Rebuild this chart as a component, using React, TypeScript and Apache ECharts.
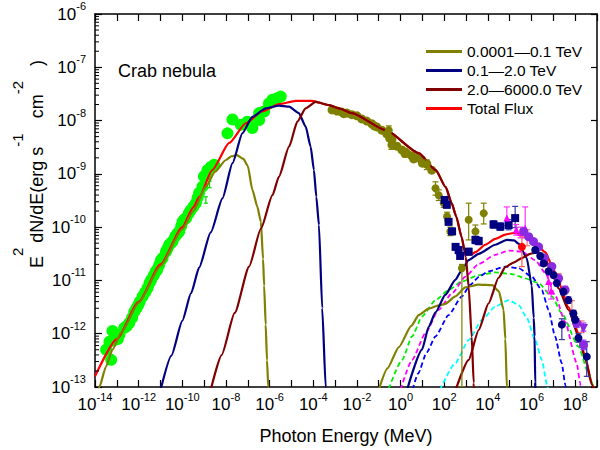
import React, { useEffect, useRef } from 'react';
import * as echarts from 'echarts';

const FONT = "'Liberation Sans', Arial, Helvetica, sans-serif";

// All values are log10(E / MeV), log10(E^2 dN/dE / erg s^-1 cm^-2)
const xRange = [-14, 9];
const yRange = [-13, -6];
const minorMantissas = [2, 3, 4, 5, 6, 7, 8, 9];

const legendNames = ['0.0001\u20140.1 TeV', '0.1\u20142.0 TeV', '2.0\u20146000.0 TeV', 'Total Flux'];

// ---- model curves ----
const totalFlux = [
  [-14, -12.8], [-13, -12.1], [-12, -11.4], [-11, -10.7], [-10, -10.0], [-9.5, -9.63], [-9.22, -9.43],
  [-8.63, -8.93], [-7.85, -8.42], [-7.09, -8.05], [-6.35, -7.83], [-5.57, -7.69], [-4.8, -7.63],
  [-4.06, -7.63], [-3.27, -7.71], [-2.82, -7.77], [-2.23, -7.86], [-0.68, -8.18], [0.83, -8.61],
  [1.61, -8.93], [2.07, -9.25], [2.34, -9.55], [2.55, -9.8], [2.8, -10.19], [2.92, -10.42],
  [3.07, -10.52], [3.25, -10.51], [3.43, -10.47], [3.88, -10.33], [4.34, -10.22], [4.8, -10.14],
  [5.18, -10.11], [5.55, -10.13], [5.87, -10.18], [6.18, -10.3], [6.63, -10.47], [6.93, -10.71],
  [7.24, -11.03], [7.69, -11.5], [8.15, -11.98], [8.45, -12.42], [8.76, -12.92], [9.0, -13.3],
];
const oliveSync = [
  [-13.9, -13.15], [-13.8, -13.0], [-13.5, -12.62], [-13.2, -12.3], [-12.8, -11.98], [-12, -11.42],
  [-11, -10.73], [-10, -10.04], [-9.5, -9.7], [-8.92, -9.24], [-8.5, -8.96], [-8, -8.74], [-7.75, -8.67],
  [-7.5, -8.65], [-7.2, -8.72], [-7.0, -8.85], [-6.79, -9.3], [-6.56, -9.62], [-6.4, -9.9],
  [-6.3, -10.6], [-6.25, -11.1], [-6.18, -11.83], [-6.12, -12.5], [-6.06, -13.0], [-6.04, -13.3],
];
const oliveIC = [
  [-1.0, -13.05], [-0.6, -12.65], [-0.08, -12.25], [0.5, -11.85], [0.83, -11.65], [1.29, -11.53],
  [1.75, -11.47], [2.05, -11.44], [2.51, -11.3], [2.97, -11.13], [3.58, -11.08], [4.2, -11.09],
  [4.5, -11.2], [4.72, -11.55], [4.8, -12.1], [4.87, -13.0], [4.9, -13.3],
];
const navySync = [
  [-11.0, -13.06], [-10.5, -12.41], [-10, -11.76], [-9.6, -11.24], [-9.23, -10.76], [-8.7, -10.1],
  [-8.16, -9.46], [-7.7, -8.8], [-7.25, -8.24], [-6.79, -7.93], [-6.18, -7.77], [-5.57, -7.72],
  [-5.11, -7.74], [-4.66, -7.86], [-4.35, -8.11], [-4.12, -8.49], [-3.97, -8.93], [-3.86, -9.43],
  [-3.74, -9.96], [-3.59, -11.52], [-3.43, -13.0], [-3.4, -13.3],
];
const navyIC = [
  [0.3, -13.05], [0.98, -12.3], [1.29, -11.87], [1.6, -11.6], [2.05, -11.27],
  [2.51, -10.99], [2.81, -10.8], [3.12, -10.62], [3.58, -10.5], [4.34, -10.33], [4.87, -10.24],
  [5.2, -10.25], [5.41, -10.31], [5.78, -10.58], [6.01, -11.1], [6.1, -11.7], [6.14, -12.05],
  [6.17, -12.92], [6.18, -13.3],
];
const darkRedSync = [
  [-8.72, -13.09], [-8.2, -12.4], [-7.6, -11.61], [-6.94, -10.74], [-6.4, -10.03], [-5.87, -9.4],
  [-5.57, -9.05], [-5.11, -8.49], [-4.73, -8.02], [-4.35, -7.77], [-3.89, -7.65], [-3.27, -7.71],
  [-2.82, -7.77], [-2.23, -7.86], [-0.68, -8.18], [0.83, -8.61], [1.61, -8.93], [2.07, -9.25],
  [2.34, -9.55], [2.55, -9.8], [2.8, -10.19], [2.99, -10.56], [3.12, -11.12], [3.26, -12.06],
  [3.35, -12.92], [3.38, -13.3],
];
const darkRedIC = [
  [2.5, -13.08], [3.12, -12.49], [3.58, -11.93], [4.03, -11.43], [4.49, -10.95],
  [4.8, -10.75], [5.2, -10.66], [5.56, -10.58], [5.94, -10.5], [6.32, -10.47], [6.63, -10.6],
  [6.93, -10.85], [7.24, -11.15], [7.69, -11.55], [8.15, -12.05], [8.45, -12.45], [8.76, -12.95],
  [9.0, -13.3],
];
const greenDashed = [
  [-0.55, -13.04], [0.07, -12.49], [0.53, -12.05], [0.98, -11.68], [1.6, -11.37],
  [2.2, -11.18], [2.81, -11.02], [3.58, -10.9], [4.34, -10.85], [5.1, -10.88], [5.71, -10.96],
  [6.32, -11.05], [6.93, -11.3], [7.39, -11.62], [8.15, -12.24], [8.61, -12.74], [8.84, -13.0],
  [8.9, -13.1],
];
const magentaDashed = [
  [0.0, -13.05], [0.53, -12.49], [1.14, -11.99], [1.75, -11.55], [2.36, -11.24],
  [2.97, -10.93], [3.58, -10.69], [4.34, -10.52], [4.95, -10.44], [5.56, -10.46], [6.17, -10.62],
  [6.63, -10.86], [7.09, -11.29], [7.54, -11.78], [8.07, -12.55], [8.23, -12.93], [8.27, -13.1],
];
const blueDashed = [
  [0.55, -13.05], [0.8, -12.75], [1.2, -12.35], [1.6, -12.05], [2.2, -11.65], [2.81, -11.3],
  [3.2, -11.08], [3.6, -10.93], [4.03, -10.83], [4.8, -10.74], [5.41, -10.77], [6.02, -10.93],
  [6.47, -11.18], [6.78, -11.55], [7.08, -12.05], [7.38, -12.55], [7.55, -12.96], [7.58, -13.1],
];
const cyanDashed = [
  [1.8, -13.06], [2.51, -12.55], [3.12, -12.12], [3.73, -11.74], [4.34, -11.49],
  [4.95, -11.37], [5.41, -11.46], [5.78, -11.7], [6.17, -12.12], [6.47, -12.49], [6.73, -13.0],
  [6.76, -13.1],
];

// ---- observations ----
const radioOptical = [
  [-13.49, -12.3], [-13.26, -12.49], [-13.34, -12.15], [-13.11, -12.12], [-12.88, -12.02],
  [-13.2, -11.95], [-12.95, -12.1], [-12.66, -11.89], [-12.55, -11.86], [-12.43, -11.8],
  [-12.3, -11.7], [-12.2, -11.59], [-12.1, -11.52], [-12.02, -11.46], [-11.95, -11.4],
  [-11.82, -11.3], [-11.7, -11.22], [-11.59, -11.14], [-11.5, -11.05], [-11.43, -10.99],
  [-11.3, -10.9], [-11.21, -10.83], [-11.15, -10.8], [-11.06, -10.71], [-10.98, -10.62],
  [-10.9, -10.58], [-10.75, -10.46], [-10.68, -10.4], [-10.6, -10.33], [-10.52, -10.3],
  [-10.45, -10.27], [-10.32, -10.17], [-10.22, -10.12], [-10.14, -10.08], [-10.05, -9.98],
  [-9.99, -9.9], [-9.9, -9.85], [-9.82, -9.83], [-9.7, -9.74], [-9.61, -9.68], [-9.5, -9.62],
  [-9.38, -9.55], [-9.3, -9.45], [-9.23, -9.36], [-9.08, -9.24], [-9.01, -9.05], [-8.92, -9.02],
  [-8.85, -8.93], [-8.69, -8.87], [-8.54, -8.83], [-7.93, -8.24], [-7.7, -7.98], [-7.32, -8.08],
  [-7.02, -8.02], [-6.79, -8.14], [-6.48, -7.99], [-6.48, -7.86], [-6.25, -7.83], [-6.03, -7.68],
  [-5.87, -7.61], [-5.65, -7.58], [-5.49, -7.55],
];
const radioErr = [
  [-8.92, -9.49, -9.55, -9.43], [-8.75, -9.2, -9.26, -9.14],
];
const xrayBand = [
  [-3.14, -7.8], [-2.91, -7.82], [-2.69, -7.84], [-2.46, -7.86], [-2.23, -7.89], [-2.0, -7.91],
  [-1.78, -7.97], [-1.55, -8.01], [-1.32, -8.06], [-1.09, -8.12], [-0.86, -8.18], [-0.63, -8.25],
  [-0.4, -8.36], [-0.17, -8.48], [0.06, -8.55], [0.28, -8.61], [0.51, -8.66], [0.74, -8.7],
  [0.97, -8.74], [1.2, -8.81], [1.43, -8.93], [-0.5, -8.33], [0.2, -8.62], [0.6, -8.72],
  [1.0, -8.8], [-1.2, -8.1], [-2.6, -7.87],
];
const xrayErr = [
  [-0.54, -8.18, -8.26, -8.1], [-0.42, -8.46, -8.54, -8.38], [0.2, -8.6, -8.68, -8.52],
  [1.2, -8.83, -8.92, -8.74], [1.6, -9.27, -9.4, -9.15], [1.75, -9.4, -9.5, -9.3],
  [1.98, -9.55, -9.63, -9.47], [2.13, -9.8, -9.88, -9.72], [2.28, -10.08, -10.16, -10.0],
  [3.12, -9.86, -10.24, -9.55], [3.43, -10.08, -10.2, -9.96], [3.81, -9.74, -9.94, -9.55],
  [2.81, -10.77, -13.0, -10.7],
];
const fermiSquares = [
  [2.02, -9.49, -9.55, -9.43], [2.12, -9.58, -9.64, -9.52], [2.2, -9.9, -9.96, -9.84],
  [2.36, -10.08, -10.14, -10.02], [2.52, -10.37, -10.43, -10.31], [2.66, -10.43, -10.5, -10.37],
  [2.73, -10.54, -10.6, -10.48], [3.12, -10.46, -10.52, -10.4], [3.43, -10.24, -10.31, -10.17],
  [3.58, -10.26, -10.33, -10.19], [4.26, -9.95, -10.02, -9.88], [4.57, -9.99, -10.06, -9.92],
  [4.95, -9.96, -10.05, -9.86], [5.25, -9.83, -10.01, -9.61],
];
const tevCircles = [
  [6.17, -10.43, -10.48, -10.38], [6.4, -10.54, -10.59, -10.49], [6.55, -10.68, -10.73, -10.63],
  [6.78, -10.83, -10.88, -10.78], [7.01, -10.9, -10.95, -10.85], [7.16, -11.05, -11.1, -11.0],
  [7.46, -11.21, -11.27, -11.15], [7.69, -11.37, -11.43, -11.31], [7.92, -11.62, -11.68, -11.56],
  [8.0, -11.74, -11.8, -11.68], [7.39, -11.83, -12.11, -11.72], [8.15, -12.08, -12.16, -12.0],
  [8.53, -12.43, -12.8, -12.15],
];
const purpleCircles = [
  [5.64, -10.08, -10.13, -10.03], [5.87, -10.18, -10.23, -10.13], [6.09, -10.27, -10.32, -10.22],
  [6.32, -10.37, -10.42, -10.32], [6.59, -10.58, -10.63, -10.53], [6.93, -10.74, -10.8, -10.68],
  [7.24, -10.96, -11.02, -10.9], [7.54, -11.18, -11.25, -11.11], [8.07, -11.8, -11.88, -11.72],
  [8.38, -12.21, -12.3, -12.12],
];
const purpleLimit = [[8.38, -11.9, -11.95, -11.8]];
const magentaPoints = [
  [4.87, -9.83, -9.97, -9.62], [5.3, -10.05, -10.15, -9.95], [5.5, -10.1, -10.2, -10.0],
  [5.71, -10.02, -10.2, -9.62], [6.78, -11.02, -11.2, -10.85], [6.9, -11.2, -11.35, -11.05],
];
const redPoints = [[5.56, -10.37, -10.74, -10.17]];
const salmonBars = [
  [5.8, -10.2, -10.35, -10.05], [7.24, -10.96, -11.05, -10.87], [7.85, -11.49, -11.6, -11.38],
  [8.3, -11.87, -11.98, -11.76],
];

const C_OLIVE = '#808000';
const C_NAVY = '#000080';
const C_DRED = '#800000';
const C_RED = '#ff0000';

function lineSeries(name: string | undefined, data: number[][], color: string, z: number, dashed = false) {
  return {
    type: 'line',
    name,
    data,
    symbol: 'none',
    showSymbol: false,
    smooth: 0.2,
    smoothMonotone: 'x',
    clip: true,
    silent: true,
    z,
    itemStyle: { color },
    lineStyle: { color, width: dashed ? 1.8 : 2.2, type: dashed ? [5, 3] : 'solid' },
  };
}

function errorBars(data: number[][], color: string, z: number, cap = 3) {
  return {
    type: 'custom',
    data,
    z,
    silent: true,
    clip: true,
    encode: { x: 0, y: 1 },
    renderItem: (_params: any, api: any) => {
      const x = api.value(0);
      const lo = api.coord([x, api.value(2)]);
      const hi = api.coord([x, api.value(3)]);
      const st = { stroke: color, lineWidth: 1.2 };
      return {
        type: 'group',
        children: [
          { type: 'line', shape: { x1: lo[0], y1: lo[1], x2: hi[0], y2: hi[1] }, style: st },
          { type: 'line', shape: { x1: hi[0] - cap, y1: hi[1], x2: hi[0] + cap, y2: hi[1] }, style: st },
          { type: 'line', shape: { x1: lo[0] - cap, y1: lo[1], x2: lo[0] + cap, y2: lo[1] }, style: st },
        ],
      };
    },
  };
}

function scatter(data: number[][], color: string, symbol: string, size: number, z: number, extra: any = {}) {
  return {
    type: 'scatter',
    data: data.map((d) => [d[0], d[1]]),
    symbol,
    symbolSize: size,
    silent: true,
    z,
    itemStyle: { color, opacity: 1 },
    ...extra,
  };
}

const minorTickData: number[][] = [];
for (let d = yRange[0]; d < yRange[1]; d++) {
  for (const m of minorMantissas) minorTickData.push([xRange[0], d + Math.log10(m)]);
}

const labelRich = {
  b: { fontSize: 17, fontFamily: FONT, color: '#000' },
  s: { fontSize: 11, fontFamily: FONT, color: '#000', padding: [0, 0, 16, 0] },
};

export default function App() {
  const ref = useRef<HTMLDivElement>(null);
  useEffect(() => {
    if (!ref.current) return;
    const chart = echarts.init(ref.current, undefined, { renderer: 'svg' });
    const axisLineStyle = { color: '#000', width: 1.5 };
    const option: any = {
      animation: false,
      backgroundColor: '#fff',
      textStyle: { fontFamily: FONT },
      grid: { left: 95, right: 2, top: 14, bottom: 63, containLabel: false },
      legend: {
        data: legendNames,
        orient: 'vertical',
        left: 426,
        top: 42,
        padding: 0,
        itemGap: 0,
        itemWidth: 36,
        itemHeight: 3,
        icon: 'rect',
        selectedMode: false,
        textStyle: { fontSize: 15.5, fontFamily: FONT, color: '#000', lineHeight: 19 },
      },
      xAxis: [
        {
          type: 'value', min: xRange[0], max: xRange[1], interval: 1, position: 'bottom',
          axisLine: { show: true, onZero: false, lineStyle: axisLineStyle },
          axisTick: { show: true, inside: true, length: 7, lineStyle: { color: '#000', width: 1.2 } },
          splitLine: { show: false },
          axisLabel: {
            margin: 4,
            formatter: (v: number) => (Math.round(v) % 2 === 0 ? `{b|10}{s|${Math.round(v)}}` : ''),
            rich: labelRich,
          },
          name: 'Photon Energy (MeV)', nameLocation: 'middle', nameGap: 40,
          nameTextStyle: { fontSize: 18, fontFamily: FONT, color: '#000' },
        },
        {
          type: 'value', min: xRange[0], max: xRange[1], interval: 1, position: 'top',
          axisLine: { show: true, onZero: false, lineStyle: axisLineStyle },
          axisTick: { show: true, inside: true, length: 7, lineStyle: { color: '#000', width: 1.2 } },
          splitLine: { show: false }, axisLabel: { show: false },
        },
      ],
      yAxis: [
        {
          type: 'value', min: yRange[0], max: yRange[1], interval: 1, position: 'left',
          axisLine: { show: true, onZero: false, lineStyle: axisLineStyle },
          axisTick: { show: true, inside: true, length: 7, lineStyle: { color: '#000', width: 1.2 } },
          splitLine: { show: false },
          axisLabel: {
            margin: 9,
            formatter: (v: number) => `{b|10}{s|${Math.round(v)}}`,
            rich: labelRich,
          },
        },
        {
          type: 'value', min: yRange[0], max: yRange[1], interval: 1, position: 'right',
          axisLine: { show: true, onZero: false, lineStyle: axisLineStyle },
          axisTick: { show: true, inside: true, length: 6, lineStyle: { color: '#000', width: 1.2 } },
          splitLine: { show: false }, axisLabel: { show: false },
        },
      ],
      graphic: [
        {
          type: 'text', left: 118, top: 62,
          style: { text: 'Crab nebula', fontSize: 18, fontFamily: FONT, fill: '#000' },
        },
        {
          type: 'text', x: 37, y: 164, rotation: Math.PI / 2,
          style: {
            text: 'E{s|2} dN/dE(erg s{s|-1}   cm{s|-2}   )',
            fontSize: 18, fontFamily: FONT, fill: '#000',
            align: 'center', verticalAlign: 'middle',
            textAlign: 'center', textVerticalAlign: 'middle',
            rich: {
              s: { fontSize: 15, fontFamily: FONT, fill: '#000', color: '#000', padding: [0, 0, 40, 0] },
            },
          },
        },
      ],
      series: [
        {
          type: 'custom', data: minorTickData, silent: true, z: 10, clip: false,
          encode: { x: 0, y: 1 },
          renderItem: (_p: any, api: any) => {
            const p = api.coord([api.value(0), api.value(1)]);
            return { type: 'line', shape: { x1: p[0], y1: p[1], x2: p[0] + 4, y2: p[1] }, style: { stroke: '#000', lineWidth: 1 } };
          },
        },
        scatter(radioOptical, '#00ff00', 'circle', 12, 1),
        errorBars(radioErr, '#00dd00', 1, 2),
        lineSeries(legendNames[3], totalFlux, C_RED, 3),
        lineSeries(undefined, greenDashed, '#00ee00', 3, true),
        lineSeries(undefined, magentaDashed, '#ff00ff', 3, true),
        lineSeries(undefined, blueDashed, '#0000ff', 3, true),
        lineSeries(undefined, cyanDashed, '#00ffff', 3, true),
        lineSeries(legendNames[0], oliveSync, C_OLIVE, 4),
        lineSeries(legendNames[0], oliveIC, C_OLIVE, 4),
        lineSeries(legendNames[1], navySync, C_NAVY, 4),
        lineSeries(legendNames[1], navyIC, C_NAVY, 4),
        lineSeries(legendNames[2], darkRedSync, C_DRED, 4),
        lineSeries(legendNames[2], darkRedIC, C_DRED, 4),
        scatter(xrayBand, C_OLIVE, 'circle', 9, 2),
        errorBars(xrayErr, C_OLIVE, 5),
        scatter(xrayErr, C_OLIVE, 'circle', 8, 5),
        errorBars(fermiSquares, '#3333aa', 5),
        scatter(fermiSquares, C_NAVY, 'rect', 8, 6),
        errorBars(salmonBars, '#ff7777', 5),
        errorBars(magentaPoints, '#ff33ff', 5),
        scatter(magentaPoints, '#ff00ff', 'triangle', 7, 6),
        errorBars(redPoints, '#ff5555', 5),
        scatter(redPoints, C_RED, 'circle', 8, 6),
        errorBars(purpleCircles, '#9933ff', 5),
        scatter(purpleCircles, '#8a2be2', 'circle', 9, 6),
        errorBars(purpleLimit, '#9933ff', 5),
        scatter(purpleLimit, '#8a2be2', 'triangle', 9, 6, { symbolRotate: 180 }),
        errorBars(tevCircles, '#3333aa', 6),
        scatter(tevCircles, C_NAVY, 'circle', 8, 7),
      ],
    };
    chart.setOption(option);
    return () => chart.dispose();
  }, []);
  return <div ref={ref} style={{ position: 'fixed', left: 0, top: 0, width: 600, height: 450 }} />;
}
